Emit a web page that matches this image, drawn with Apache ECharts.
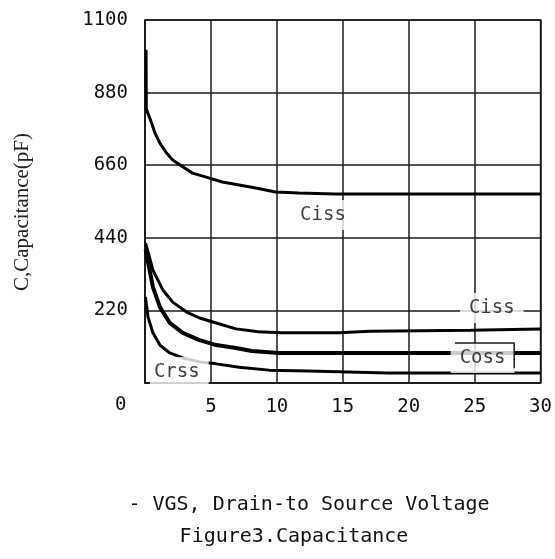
<!DOCTYPE html>
<html>
<head>
<meta charset="utf-8">
<script src="https://cdn.jsdelivr.net/npm/echarts@6/dist/echarts.min.js"></script>
<style>html,body{margin:0;padding:0;background:#fff;}#c{width:555px;height:559px;}</style>
</head>
<body>
<div id="c"></div>
<script>
// ---- data ----
const xTicks = [0, 5, 10, 15, 20, 25, 30];
const yTicks = [0, 220, 440, 660, 880, 1100];

const cissHiV = [0.08, 0.1, 0.5, 0.75, 1.13, 1.63, 2.1, 2.86, 3.6, 4.64, 5.86, 7.14, 8.4, 9.9, 11.65, 14.4, 30];
const cissHiC = [1010, 830, 788, 758, 727, 697, 676, 655, 636, 624, 609, 600, 591, 579, 576, 573, 573];

const cissLoV = [0.05, 0.6, 1.35, 2.1, 3.16, 4.14, 5.4, 6.9, 8.6, 10.3, 14.7, 17.1, 24.7, 30];
const cissLoC = [424, 342, 282, 245, 215, 197, 182, 164, 155, 152, 152, 157, 160, 164];

const cossV = [0.05, 0.15, 0.6, 1.13, 1.88, 2.86, 4.14, 5.4, 6.9, 8.1, 10.15, 30];
const cossC = [405, 382, 291, 230, 182, 152, 130, 115, 106, 97, 91, 91];

const crssV = [0.03, 0.23, 0.6, 1.13, 1.88, 2.86, 4.14, 5.4, 7.14, 9.4, 12.4, 18.4, 30];
const crssC = [261, 200, 152, 115, 91, 76, 64, 58, 48, 39, 36, 30, 30];

const labelNames = ['Ciss', 'Ciss', 'Coss', 'Crss'];
const labelV = [13.5, 26.3, 25.6, 2.6];
const labelC = [509, 227, 76, 33];

const cossFrameV = [23.5, 28, 28];
const cossFrameC = [121, 121, 45];

const xTitle = '- VGS, Drain-to Source Voltage';
const figTitle = 'Figure3.Capacitance';
const yTitle = 'C,Capacitance(pF)';

// ---- build ----
const zip = (a, b) => a.map((v, i) => [v, b[i]]);
const mono = 'DejaVu Sans Mono';
const ink = '#111';

const curve = (name, v, c, w) => ({
  name, type: 'line', data: zip(v, c), showSymbol: false, symbol: 'none',
  smooth: false, lineStyle: { color: '#000', width: w }, z: 3, silent: true
});

const labelPads = [[6, 3, 5, 3], [6, 9, 5, 9], [6, 9, 5, 9], [6, 9, 5, 4]];

const chart = echarts.init(document.getElementById('c'), null, { renderer: 'canvas' });
chart.setOption({
  backgroundColor: '#fff',
  animation: false,
  grid: { left: 145, top: 20, width: 399, height: 363, show: true, borderColor: '#1a1a1a', borderWidth: 1.5, backgroundColor: 'transparent' },
  xAxis: {
    type: 'value', min: xTicks[0], max: xTicks[xTicks.length - 1], interval: 5,
    axisLine: { show: true, lineStyle: { color: '#1a1a1a', width: 1.5 } },
    axisTick: { show: false },
    splitLine: { show: true, lineStyle: { color: '#1a1a1a', width: 1.5 } },
    axisLabel: { color: ink, fontFamily: mono, fontSize: 19, margin: 15,
      formatter: v => (v === 0 ? '' : String(v)) }
  },
  yAxis: {
    type: 'value', min: yTicks[0], max: yTicks[yTicks.length - 1], interval: 220,
    axisLine: { show: true, lineStyle: { color: '#1a1a1a', width: 1.5 } },
    axisTick: { show: false },
    splitLine: { show: true, lineStyle: { color: '#1a1a1a', width: 1.5 } },
    axisLabel: { color: ink, fontFamily: mono, fontSize: 19, margin: 17,
      formatter: v => (v === 0 ? '' : String(v)) }
  },
  series: [
    curve('Ciss', cissHiV, cissHiC, 3),
    curve('Ciss2', cissLoV, cissLoC, 3),
    curve('Coss', cossV, cossC, 4),
    curve('Crss', crssV, crssC, 3),
    {
      type: 'scatter', z: 10, silent: true, symbolSize: 1, itemStyle: { color: 'rgba(0,0,0,0)' },
      data: labelNames.map((n, i) => ({ value: [labelV[i], labelC[i]], name: n, label: { padding: labelPads[i] } })),
      label: {
        show: true, position: 'inside', formatter: p => p.name,
        color: ink, fontFamily: mono, fontSize: 19, backgroundColor: '#fff'
      }
    },
    {
      type: 'line', z: 11, silent: true, showSymbol: false, symbol: 'none',
      data: zip(cossFrameV, cossFrameC), lineStyle: { color: '#1a1a1a', width: 1.5 }
    }
  ],
  graphic: [
    { type: 'text', left: 115, top: 396, style: { text: '0', fill: ink, font: '19px "DejaVu Sans Mono"' } },
    { type: 'text', x: 309, y: 505, style: { text: xTitle, fill: ink, font: '20px "DejaVu Sans Mono"', textAlign: 'center', textVerticalAlign: 'middle' } },
    { type: 'text', x: 294, y: 537, style: { text: figTitle, fill: ink, font: '20px "DejaVu Sans Mono"', textAlign: 'center', textVerticalAlign: 'middle' } },
    { type: 'text', x: 22, y: 212, rotation: Math.PI / 2, style: { text: yTitle, fill: '#222', font: '21px "Liberation Serif"', textAlign: 'center', textVerticalAlign: 'middle' } }
  ]
});
</script>
</body>
</html>
